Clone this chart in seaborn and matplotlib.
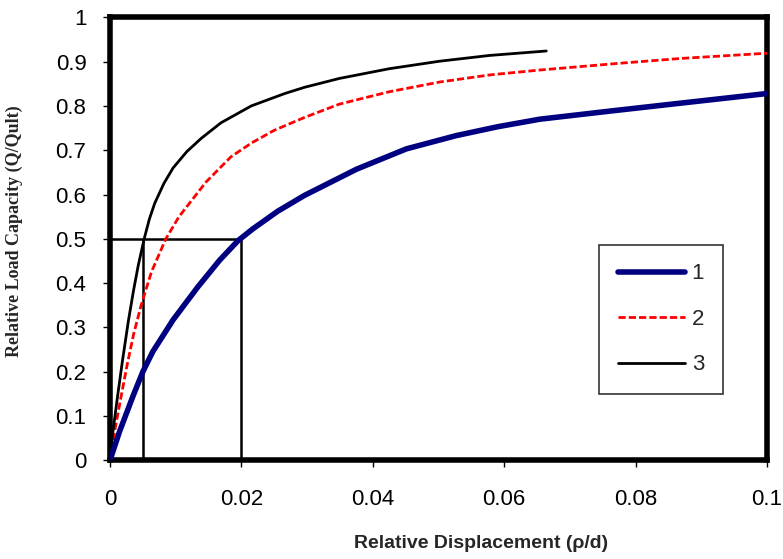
import matplotlib
matplotlib.use("Agg")
import matplotlib.pyplot as plt
import seaborn as sns
import pandas as pd

# Data
x1 = [0, 0.00145, 0.0035, 0.005, 0.0065, 0.0096, 0.0134, 0.0167, 0.0195, 0.0217, 0.0255,
      0.0296, 0.0375, 0.0451, 0.0527, 0.059, 0.0654, 0.0765, 0.0867, 0.1]
y1 = [0, 0.065, 0.145, 0.2, 0.245, 0.317, 0.392, 0.452, 0.496, 0.522, 0.562,
      0.598, 0.657, 0.703, 0.733, 0.753, 0.770, 0.789, 0.806, 0.828]

x2 = [0, 0.0007, 0.0017, 0.0026, 0.0036, 0.0047, 0.0063, 0.0085, 0.0105, 0.0146, 0.0184,
      0.0215, 0.025, 0.0296, 0.0349, 0.0425, 0.0502, 0.0578, 0.0654, 0.0765, 0.0867, 0.1]
y2 = [0, 0.065, 0.145, 0.215, 0.285, 0.348, 0.425, 0.5, 0.55, 0.628, 0.685,
      0.716, 0.745, 0.774, 0.804, 0.832, 0.854, 0.870, 0.881, 0.895, 0.907, 0.919]

x3 = [0, 0.0004, 0.0012, 0.0019, 0.0028, 0.0036, 0.0043, 0.0052, 0.006, 0.0068, 0.0082,
      0.0096, 0.0117, 0.0139, 0.0169, 0.0215, 0.0266, 0.0296, 0.0349, 0.0425, 0.0502,
      0.0578, 0.0664]
y3 = [0, 0.06, 0.15, 0.225, 0.315, 0.385, 0.44, 0.5, 0.545, 0.58, 0.625,
      0.66, 0.697, 0.727, 0.762, 0.8, 0.828, 0.842, 0.862, 0.884, 0.901,
      0.914, 0.924]

series_names = ["1", "2", "3"]

guide_h_x = [0, 0.02]
guide_h_y = [0.5, 0.5]
guide_v1_x = [0.005, 0.005]
guide_v2_x = [0.02, 0.02]
guide_v_y = [0, 0.5]

xticks = [0, 0.02, 0.04, 0.06, 0.08, 0.1]
xtick_labels = ["0", "0.02", "0.04", "0.06", "0.08", "0.1"]
yticks = [0, 0.1, 0.2, 0.3, 0.4, 0.5, 0.6, 0.7, 0.8, 0.9, 1.0]
ytick_labels = ["0", "0.1", "0.2", "0.3", "0.4", "0.5", "0.6", "0.7", "0.8", "0.9", "1"]

sns.set_style("ticks")
plt.rcParams["font.family"] = ["Liberation Sans", "DejaVu Sans"]

fig = plt.figure(figsize=(7.83, 5.59), dpi=100)
ax = fig.add_axes([0.1405, 0.1766, 0.8391, 0.7924])

df1 = pd.DataFrame({"x": x1, "y": y1})
df2 = pd.DataFrame({"x": x2, "y": y2})
df3 = pd.DataFrame({"x": x3, "y": y3})

# guide lines
for gx, gy in [(guide_h_x, guide_h_y), (guide_v1_x, guide_v_y), (guide_v2_x, guide_v_y)]:
    ax.plot(gx, gy, color="black", lw=1.8, zorder=2)

sns.lineplot(data=df1, x="x", y="y", ax=ax, color="#000080", lw=4.0, sort=False,
             label=series_names[0], solid_capstyle="round", solid_joinstyle="round", zorder=4)
sns.lineplot(data=df2, x="x", y="y", ax=ax, color="#ff0000", lw=2.0, sort=False,
             label=series_names[1], zorder=3)
ax.lines[-1].set_dashes((2.6, 1.1))
sns.lineplot(data=df3, x="x", y="y", ax=ax, color="black", lw=2.0, sort=False,
             label=series_names[2], solid_joinstyle="round", zorder=3)

ax.set_xlim(0, 0.1)
ax.set_ylim(0, 1)
ax.set_xticks(xticks)
ax.set_xticklabels(xtick_labels)
ax.set_yticks(yticks)
ax.set_yticklabels(ytick_labels)

for s in ax.spines.values():
    s.set_linewidth(4)
    s.set_color("black")
    s.set_visible(True)

ax.tick_params(axis="both", direction="out", length=5, width=1, color="black",
               labelsize=16, labelcolor="black")
ax.tick_params(axis="x", pad=16)
ax.tick_params(axis="y", pad=12)

ax.set_xlabel("Relative Displacement (ρ/d)", fontsize=14, fontweight="bold",
              family=["Liberation Sans", "DejaVu Sans"])
ax.xaxis.set_label_coords(0.565, -0.168)
ax.set_ylabel("Relative Load Capacity (Q/Qult)", fontsize=13, fontweight="bold",
              family=["Liberation Serif", "DejaVu Serif"])
ax.yaxis.set_label_coords(-0.132, 0.518)

leg = ax.legend(loc="upper left", bbox_to_anchor=(0.745, 0.487), frameon=True,
                fancybox=False, shadow=False, fontsize=16, handlelength=3.0,
                handletextpad=0.3, labelspacing=1.1, borderpad=0.85,
                borderaxespad=0)
leg.get_frame().set_edgecolor("black")
leg.get_frame().set_linewidth(1.2)

fig.savefig("out.png", dpi=100)
